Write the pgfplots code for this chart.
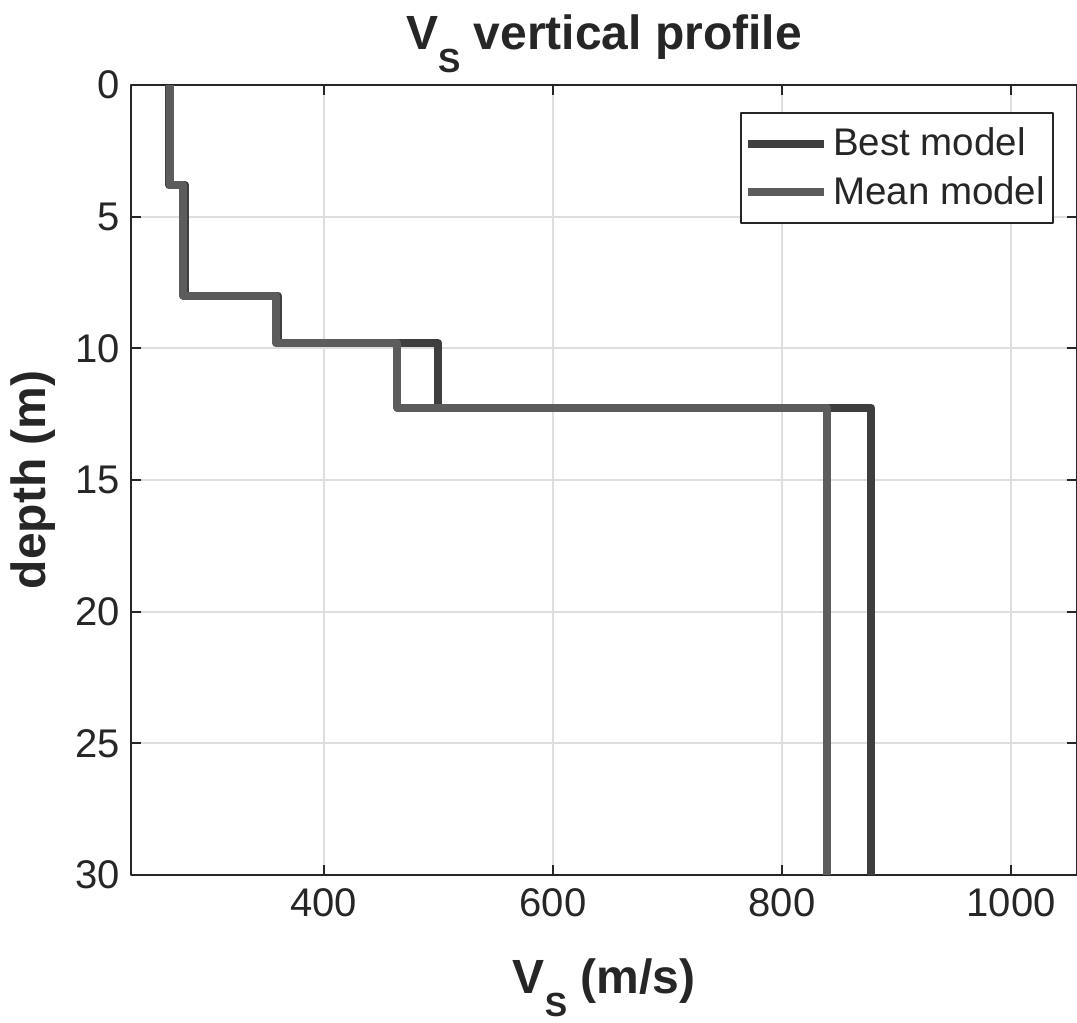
\documentclass[border=0pt]{standalone}
\usepackage{pgfplots}
\pgfplotsset{compat=1.18}
\usetikzlibrary{calc}
\usepackage{fontspec}
\setmainfont{Liberation Sans}
\definecolor{bestc}{RGB}{62,62,62}
\definecolor{meanc}{RGB}{92,92,92}
\definecolor{axc}{RGB}{38,38,38}
\definecolor{gridc}{RGB}{222,222,222}
\newcommand{\Vs}{V\raisebox{-9.2pt}{\fontsize{13.4}{15}\selectfont S}}
\pgfplotstableread{
x y
265 0
265 3.8
279 3.8
279 8.0
360 8.0
360 9.8
500 9.8
500 12.25
878 12.25
878 30
}\best
\pgfplotstableread{
x y
266 0
266 3.8
277 3.8
277 8.0
358 8.0
358 9.8
464 9.8
464 12.25
839 12.25
839 30
}\mean
\begin{document}
\begin{tikzpicture}
\begin{axis}[
  name=ax,
  width=378.4pt, height=316pt, scale only axis,
  xmin=231.6, xmax=1057.6, ymin=0, ymax=30, y dir=reverse,
  xtick={400,600,800,1000}, ytick={0,5,...,30},
  grid=major, major grid style={gridc, line width=0.8pt},
  axis line style={axc, line width=0.8pt},
  tick style={axc, line width=0.8pt}, tick align=inside, major tick length=4pt,
  ticklabel style={font=\fontsize{16}{19}\selectfont, text=axc},
  xticklabel style={yshift=-1.9pt},
  yticklabel style={xshift=-1pt},
  /pgf/number format/assume math mode=true,
  /pgf/number format/1000 sep={},
  title={\Vs{} vertical profile},
  title style={font=\bfseries\fontsize{19.2}{23}\selectfont, text=axc, at={(axis description cs:0.5,1.0481)}, anchor=base, yshift=-6.8pt},
  xlabel={\Vs{} (m/s)},
  xlabel style={font=\bfseries\fontsize{19.2}{23}\selectfont, text=axc, at={(axis description cs:0.5,-0.1494)}, anchor=base},
  ylabel={depth (m)},
  ylabel style={font=\bfseries\fontsize{19.2}{23}\selectfont, text=axc, at={(axis description cs:-0.0909,0.5)}, anchor=base},
  legend style={at={(1,1)}, anchor=north east, xshift=-9.2pt, yshift=-10.8pt,
    draw=axc, line width=0.8pt, fill=white, inner xsep=1.2pt, inner ysep=4pt,
    font=\fontsize{15.4}{18}\selectfont, text=axc,
    row sep=2.8pt},
  legend cell align=left,
  legend image code/.code={\draw[#1] (0pt,0pt) -- (30.4pt,0pt);},
  line join=round,
]
\addplot[bestc, line width=3.2pt] table[x=x,y=y] {\best};
\addlegendentry{Best model}
\addplot[meanc, line width=3.2pt] table[x=x,y=y] {\mean};
\addlegendentry{Mean model}
\end{axis}
\pgfresetboundingbox
\path[use as bounding box] ($(ax.south west)+(-52.4pt,-59.2pt)$) rectangle ($(ax.north east)+(0pt,34pt)$);
\end{tikzpicture}
\end{document}
